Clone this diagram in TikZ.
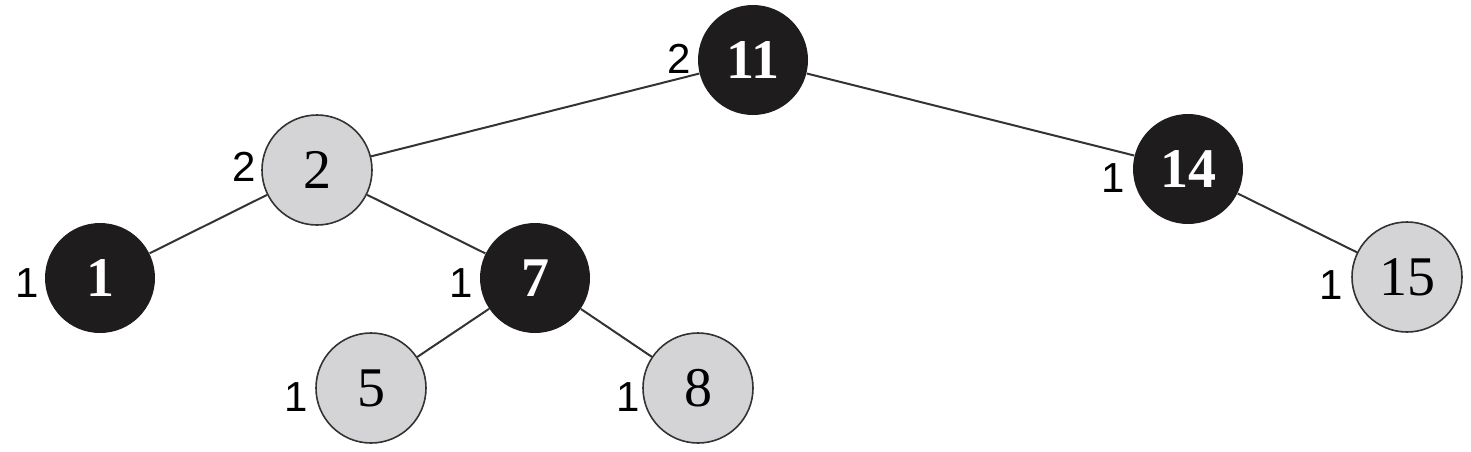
\documentclass[tikz,border=0pt]{standalone}
\usepackage{fontspec}
\setmainfont{Liberation Serif}
\newfontfamily\lblfont{Liberation Sans}
\definecolor{nodeblack}{HTML}{1E1C1D}
\definecolor{nodegray}{HTML}{D4D4D6}
\definecolor{edgecol}{HTML}{333333}
\begin{document}
\begin{tikzpicture}[x=0.5pt,y=-0.5pt,
  rbnode/.style={circle,minimum size=55pt,inner sep=0pt,font=\fontsize{28}{28}\selectfont},
  blk/.style={rbnode,fill=nodeblack,text=white,font=\fontsize{28}{28}\selectfont\bfseries},
  gry/.style={rbnode,fill=nodegray,draw=edgecol,line width=0.8pt,text=black},
  edge/.style={draw=edgecol,line width=1pt},
  lbl/.style={font=\lblfont\fontsize{21}{21}\selectfont,inner sep=0pt,text=black}]
\useasboundingbox (0,0) rectangle (1471,451);
\node[blk] (n11) at (753,60) {11};
\node[gry] (n2) at (317,170) {2};
\node[blk] (n14) at (1188,169) {14};
\node[blk] (n1) at (100,278) {1};
\node[blk] (n7) at (535,278) {7};
\node[gry] (n15) at (1407,277) {15};
\node[gry] (n5) at (371,388) {5};
\node[gry] (n8) at (698,388) {8};
\draw[edge] (n11) -- (n2);
\draw[edge] (n11) -- (n14);
\draw[edge] (n2) -- (n1);
\draw[edge] (n2) -- (n7);
\draw[edge] (n7) -- (n5);
\draw[edge] (n7) -- (n8);
\draw[edge] (n14) -- (n15);
\node[lbl] (l11) at (679,59) {2};
\node[lbl] (l2) at (244,167) {2};
\node[lbl] (l14) at (1113,178) {1};
\node[lbl] (l1) at (27,283) {1};
\node[lbl] (l7) at (461,283) {1};
\node[lbl] (l15) at (1331,285) {1};
\node[lbl] (l5) at (296,397) {1};
\node[lbl] (l8) at (628,397) {1};
\end{tikzpicture}
\end{document}
